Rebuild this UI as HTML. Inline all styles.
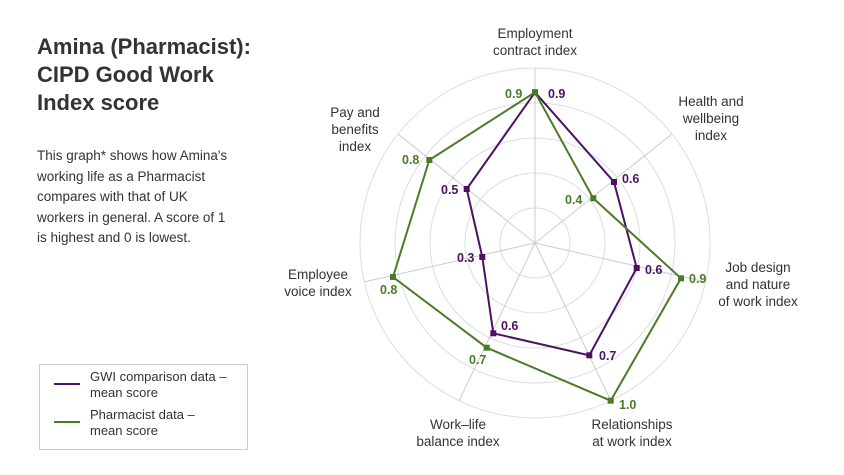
<!DOCTYPE html>
<html><head><style>
body{margin:0;background:#fff;width:844px;height:475px;overflow:hidden;font-family:"Liberation Sans",sans-serif;color:#333}
h1{position:absolute;left:37px;top:33px;margin:0;font-size:22px;line-height:28px;font-weight:bold;color:#333}
p.d{position:absolute;left:37px;top:146px;margin:0;font-size:13.5px;line-height:20.5px;width:240px;color:#333;white-space:nowrap}
.leg{position:absolute;left:39px;top:364px;width:207px;height:84px;border:1px solid #ccc;font-size:13px;line-height:16px}
</style></head><body>
<h1>Amina (Pharmacist):<br>CIPD Good Work<br>Index score</h1>
<p class="d">This graph* shows how Amina's<br>working life as a Pharmacist<br>compares with that of UK<br>workers in general. A score of 1<br>is highest and 0 is lowest.</p>
<div class="leg">
<div style="position:absolute;left:14px;top:18px;width:26px;height:2px;background:#4b1162"></div>
<div style="position:absolute;left:50px;top:4px">GWI comparison data –<br>mean score</div>
<div style="position:absolute;left:14px;top:56px;width:26px;height:2px;background:#4a7c27"></div>
<div style="position:absolute;left:50px;top:42px">Pharmacist data –<br>mean score</div>
</div>
<svg width="844" height="475" style="position:absolute;left:0;top:0" font-family="Liberation Sans, sans-serif">
<g fill="none" stroke="#ddd" stroke-width="1">
<circle cx="535" cy="243" r="35"/><circle cx="535" cy="243" r="70"/><circle cx="535" cy="243" r="105"/><circle cx="535" cy="243" r="140"/><circle cx="535" cy="243" r="175"/>
</g>
<g stroke="#ccc" stroke-width="1">
<line x1="535" y1="243" x2="535" y2="68"/>
<line x1="535" y1="243" x2="672" y2="134"/>
<line x1="535" y1="243" x2="706" y2="282"/>
<line x1="535" y1="243" x2="611" y2="401"/>
<line x1="535" y1="243" x2="459" y2="401"/>
<line x1="535" y1="243" x2="364" y2="282"/>
<line x1="535" y1="243" x2="398" y2="134"/>
</g>
<polygon points="535,92.3 614,182 636.7,268 589.3,355.3 493.3,333.3 482.3,257 466.7,189" fill="none" stroke="#4b1162" stroke-width="2"/>
<polygon points="535,92.3 593.3,198.3 681,278.3 610.7,400.7 486.7,347.7 393,277 429.3,160" fill="none" stroke="#4a7c27" stroke-width="2"/>
<g fill="#4b1162">
<rect x="532" y="89.3" width="6" height="6"/><rect x="611" y="179" width="6" height="6"/><rect x="633.7" y="265" width="6" height="6"/><rect x="586.3" y="352.3" width="6" height="6"/><rect x="490.3" y="330.3" width="6" height="6"/><rect x="479.3" y="254" width="6" height="6"/><rect x="463.7" y="186" width="6" height="6"/>
</g>
<g fill="#4a7c27">
<rect x="532" y="89.3" width="6" height="6"/><rect x="590.3" y="195.3" width="6" height="6"/><rect x="678" y="275.3" width="6" height="6"/><rect x="607.7" y="397.7" width="6" height="6"/><rect x="483.7" y="344.7" width="6" height="6"/><rect x="390" y="274" width="6" height="6"/><rect x="426.3" y="157" width="6" height="6"/>
</g>
<g font-size="12.5" font-weight="bold" fill="#4b1162">
<text x="548" y="98">0.9</text><text x="622" y="183">0.6</text><text x="645" y="274">0.6</text><text x="599" y="360">0.7</text><text x="501" y="330">0.6</text><text x="457" y="262">0.3</text><text x="441" y="194">0.5</text>
</g>
<g font-size="12.5" font-weight="bold" fill="#4a7c27">
<text x="505" y="98">0.9</text><text x="565" y="204">0.4</text><text x="689" y="283">0.9</text><text x="619" y="409">1.0</text><text x="469" y="364">0.7</text><text x="380" y="294">0.8</text><text x="402" y="164">0.8</text>
</g>
<g font-size="13.5" fill="#333" text-anchor="middle">
<text x="535" y="38">Employment</text><text x="535" y="55">contract index</text>
<text x="711" y="106">Health and</text><text x="711" y="123">wellbeing</text><text x="711" y="140">index</text>
<text x="758" y="272">Job design</text><text x="758" y="289">and nature</text><text x="758" y="306">of work index</text>
<text x="632" y="429">Relationships</text><text x="632" y="446">at work index</text>
<text x="458" y="429">Work–life</text><text x="458" y="446">balance index</text>
<text x="318" y="279">Employee</text><text x="318" y="296">voice index</text>
<text x="355" y="117">Pay and</text><text x="355" y="134">benefits</text><text x="355" y="151">index</text>
</g>
</svg>
</body></html>
